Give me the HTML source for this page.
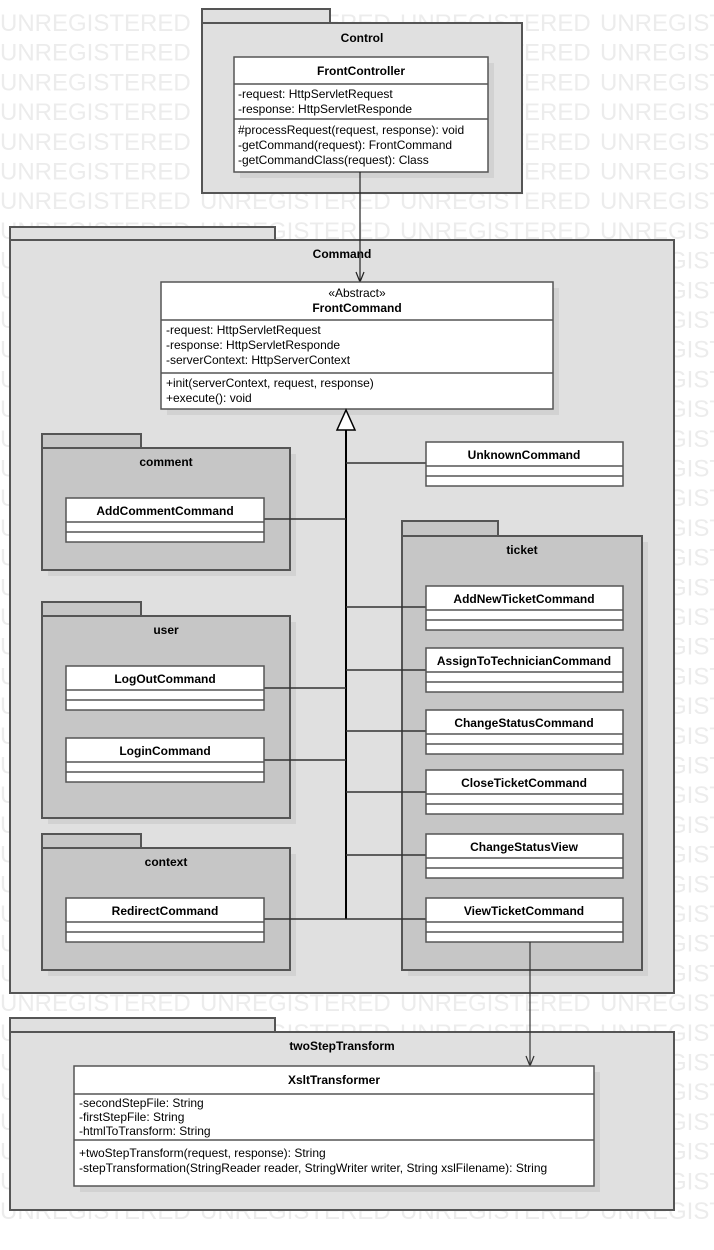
<!DOCTYPE html>
<html><head><meta charset="utf-8"><style>
html,body{margin:0;padding:0;background:#fff;}
svg{display:block;}
text{font-family:"Liberation Sans",sans-serif;font-size:12px;fill:#000;}
.wm{font-size:24px;fill:#ececec;}
.b{font-weight:bold;}
.pk{stroke:#555;stroke-width:2;}
.cl{fill:#fff;stroke:#555;stroke-width:1.5;}
.ln{stroke:#555;stroke-width:1.5;}
.sh{fill:#000;opacity:0.06;}
</style></head><body>
<svg width="714" height="1250" viewBox="0 0 714 1250" xmlns="http://www.w3.org/2000/svg">
<g class="wmg">
<text class="wm" y="31"><tspan x="0">UNREGISTERED</tspan><tspan x="200">UNREGISTERED</tspan><tspan x="400">UNREGISTERED</tspan><tspan x="600">UNREGISTERED</tspan></text>
<text class="wm" y="60.7"><tspan x="0">UNREGISTERED</tspan><tspan x="200">UNREGISTERED</tspan><tspan x="400">UNREGISTERED</tspan><tspan x="600">UNREGISTERED</tspan></text>
<text class="wm" y="90.4"><tspan x="0">UNREGISTERED</tspan><tspan x="200">UNREGISTERED</tspan><tspan x="400">UNREGISTERED</tspan><tspan x="600">UNREGISTERED</tspan></text>
<text class="wm" y="120.1"><tspan x="0">UNREGISTERED</tspan><tspan x="200">UNREGISTERED</tspan><tspan x="400">UNREGISTERED</tspan><tspan x="600">UNREGISTERED</tspan></text>
<text class="wm" y="149.8"><tspan x="0">UNREGISTERED</tspan><tspan x="200">UNREGISTERED</tspan><tspan x="400">UNREGISTERED</tspan><tspan x="600">UNREGISTERED</tspan></text>
<text class="wm" y="179.5"><tspan x="0">UNREGISTERED</tspan><tspan x="200">UNREGISTERED</tspan><tspan x="400">UNREGISTERED</tspan><tspan x="600">UNREGISTERED</tspan></text>
<text class="wm" y="209.2"><tspan x="0">UNREGISTERED</tspan><tspan x="200">UNREGISTERED</tspan><tspan x="400">UNREGISTERED</tspan><tspan x="600">UNREGISTERED</tspan></text>
<text class="wm" y="238.9"><tspan x="0">UNREGISTERED</tspan><tspan x="200">UNREGISTERED</tspan><tspan x="400">UNREGISTERED</tspan><tspan x="600">UNREGISTERED</tspan></text>
<text class="wm" y="268.6"><tspan x="0">UNREGISTERED</tspan><tspan x="200">UNREGISTERED</tspan><tspan x="400">UNREGISTERED</tspan><tspan x="600">UNREGISTERED</tspan></text>
<text class="wm" y="298.3"><tspan x="0">UNREGISTERED</tspan><tspan x="200">UNREGISTERED</tspan><tspan x="400">UNREGISTERED</tspan><tspan x="600">UNREGISTERED</tspan></text>
<text class="wm" y="328"><tspan x="0">UNREGISTERED</tspan><tspan x="200">UNREGISTERED</tspan><tspan x="400">UNREGISTERED</tspan><tspan x="600">UNREGISTERED</tspan></text>
<text class="wm" y="357.7"><tspan x="0">UNREGISTERED</tspan><tspan x="200">UNREGISTERED</tspan><tspan x="400">UNREGISTERED</tspan><tspan x="600">UNREGISTERED</tspan></text>
<text class="wm" y="387.4"><tspan x="0">UNREGISTERED</tspan><tspan x="200">UNREGISTERED</tspan><tspan x="400">UNREGISTERED</tspan><tspan x="600">UNREGISTERED</tspan></text>
<text class="wm" y="417.1"><tspan x="0">UNREGISTERED</tspan><tspan x="200">UNREGISTERED</tspan><tspan x="400">UNREGISTERED</tspan><tspan x="600">UNREGISTERED</tspan></text>
<text class="wm" y="446.8"><tspan x="0">UNREGISTERED</tspan><tspan x="200">UNREGISTERED</tspan><tspan x="400">UNREGISTERED</tspan><tspan x="600">UNREGISTERED</tspan></text>
<text class="wm" y="476.5"><tspan x="0">UNREGISTERED</tspan><tspan x="200">UNREGISTERED</tspan><tspan x="400">UNREGISTERED</tspan><tspan x="600">UNREGISTERED</tspan></text>
<text class="wm" y="506.2"><tspan x="0">UNREGISTERED</tspan><tspan x="200">UNREGISTERED</tspan><tspan x="400">UNREGISTERED</tspan><tspan x="600">UNREGISTERED</tspan></text>
<text class="wm" y="535.9"><tspan x="0">UNREGISTERED</tspan><tspan x="200">UNREGISTERED</tspan><tspan x="400">UNREGISTERED</tspan><tspan x="600">UNREGISTERED</tspan></text>
<text class="wm" y="565.6"><tspan x="0">UNREGISTERED</tspan><tspan x="200">UNREGISTERED</tspan><tspan x="400">UNREGISTERED</tspan><tspan x="600">UNREGISTERED</tspan></text>
<text class="wm" y="595.3"><tspan x="0">UNREGISTERED</tspan><tspan x="200">UNREGISTERED</tspan><tspan x="400">UNREGISTERED</tspan><tspan x="600">UNREGISTERED</tspan></text>
<text class="wm" y="625"><tspan x="0">UNREGISTERED</tspan><tspan x="200">UNREGISTERED</tspan><tspan x="400">UNREGISTERED</tspan><tspan x="600">UNREGISTERED</tspan></text>
<text class="wm" y="654.7"><tspan x="0">UNREGISTERED</tspan><tspan x="200">UNREGISTERED</tspan><tspan x="400">UNREGISTERED</tspan><tspan x="600">UNREGISTERED</tspan></text>
<text class="wm" y="684.4"><tspan x="0">UNREGISTERED</tspan><tspan x="200">UNREGISTERED</tspan><tspan x="400">UNREGISTERED</tspan><tspan x="600">UNREGISTERED</tspan></text>
<text class="wm" y="714.1"><tspan x="0">UNREGISTERED</tspan><tspan x="200">UNREGISTERED</tspan><tspan x="400">UNREGISTERED</tspan><tspan x="600">UNREGISTERED</tspan></text>
<text class="wm" y="743.8"><tspan x="0">UNREGISTERED</tspan><tspan x="200">UNREGISTERED</tspan><tspan x="400">UNREGISTERED</tspan><tspan x="600">UNREGISTERED</tspan></text>
<text class="wm" y="773.5"><tspan x="0">UNREGISTERED</tspan><tspan x="200">UNREGISTERED</tspan><tspan x="400">UNREGISTERED</tspan><tspan x="600">UNREGISTERED</tspan></text>
<text class="wm" y="803.2"><tspan x="0">UNREGISTERED</tspan><tspan x="200">UNREGISTERED</tspan><tspan x="400">UNREGISTERED</tspan><tspan x="600">UNREGISTERED</tspan></text>
<text class="wm" y="832.9"><tspan x="0">UNREGISTERED</tspan><tspan x="200">UNREGISTERED</tspan><tspan x="400">UNREGISTERED</tspan><tspan x="600">UNREGISTERED</tspan></text>
<text class="wm" y="862.6"><tspan x="0">UNREGISTERED</tspan><tspan x="200">UNREGISTERED</tspan><tspan x="400">UNREGISTERED</tspan><tspan x="600">UNREGISTERED</tspan></text>
<text class="wm" y="892.3"><tspan x="0">UNREGISTERED</tspan><tspan x="200">UNREGISTERED</tspan><tspan x="400">UNREGISTERED</tspan><tspan x="600">UNREGISTERED</tspan></text>
<text class="wm" y="922"><tspan x="0">UNREGISTERED</tspan><tspan x="200">UNREGISTERED</tspan><tspan x="400">UNREGISTERED</tspan><tspan x="600">UNREGISTERED</tspan></text>
<text class="wm" y="951.7"><tspan x="0">UNREGISTERED</tspan><tspan x="200">UNREGISTERED</tspan><tspan x="400">UNREGISTERED</tspan><tspan x="600">UNREGISTERED</tspan></text>
<text class="wm" y="981.4"><tspan x="0">UNREGISTERED</tspan><tspan x="200">UNREGISTERED</tspan><tspan x="400">UNREGISTERED</tspan><tspan x="600">UNREGISTERED</tspan></text>
<text class="wm" y="1011.1"><tspan x="0">UNREGISTERED</tspan><tspan x="200">UNREGISTERED</tspan><tspan x="400">UNREGISTERED</tspan><tspan x="600">UNREGISTERED</tspan></text>
<text class="wm" y="1040.8"><tspan x="0">UNREGISTERED</tspan><tspan x="200">UNREGISTERED</tspan><tspan x="400">UNREGISTERED</tspan><tspan x="600">UNREGISTERED</tspan></text>
<text class="wm" y="1070.5"><tspan x="0">UNREGISTERED</tspan><tspan x="200">UNREGISTERED</tspan><tspan x="400">UNREGISTERED</tspan><tspan x="600">UNREGISTERED</tspan></text>
<text class="wm" y="1100.2"><tspan x="0">UNREGISTERED</tspan><tspan x="200">UNREGISTERED</tspan><tspan x="400">UNREGISTERED</tspan><tspan x="600">UNREGISTERED</tspan></text>
<text class="wm" y="1129.9"><tspan x="0">UNREGISTERED</tspan><tspan x="200">UNREGISTERED</tspan><tspan x="400">UNREGISTERED</tspan><tspan x="600">UNREGISTERED</tspan></text>
<text class="wm" y="1159.6"><tspan x="0">UNREGISTERED</tspan><tspan x="200">UNREGISTERED</tspan><tspan x="400">UNREGISTERED</tspan><tspan x="600">UNREGISTERED</tspan></text>
<text class="wm" y="1189.3"><tspan x="0">UNREGISTERED</tspan><tspan x="200">UNREGISTERED</tspan><tspan x="400">UNREGISTERED</tspan><tspan x="600">UNREGISTERED</tspan></text>
<text class="wm" y="1219"><tspan x="0">UNREGISTERED</tspan><tspan x="200">UNREGISTERED</tspan><tspan x="400">UNREGISTERED</tspan><tspan x="600">UNREGISTERED</tspan></text>
</g>

<!-- Control -->
<rect x="202" y="9" width="128" height="14" fill="#e0e0e0" class="pk"/>
<rect x="202" y="23" width="320" height="170" fill="#e0e0e0" class="pk"/>
<text x="362" y="42" text-anchor="middle" class="b">Control</text>
<rect x="240" y="63" width="254" height="115" class="sh"/>
<rect x="234" y="57" width="254" height="115" class="cl"/>
<line x1="234" y1="84" x2="488" y2="84" class="ln"/>
<line x1="234" y1="119" x2="488" y2="119" class="ln"/>
<text x="361" y="75" text-anchor="middle" class="b">FrontController</text>
<text x="238" y="98">-request: HttpServletRequest</text>
<text x="238" y="113">-response: HttpServletResponde</text>
<text x="238" y="134">#processRequest(request, response): void</text>
<text x="238" y="149">-getCommand(request): FrontCommand</text>
<text x="238" y="164">-getCommandClass(request): Class</text>

<!-- Command -->
<rect x="10" y="227" width="265" height="13" fill="#e0e0e0" class="pk"/>
<rect x="10" y="240" width="664" height="753" fill="#e0e0e0" class="pk"/>
<text x="342" y="258" text-anchor="middle" class="b">Command</text>

<line x1="360" y1="172" x2="360" y2="282" stroke="#222" stroke-width="1.2"/>
<polyline points="356,272 360,282 364,272" fill="none" stroke="#222" stroke-width="1.2"/>

<rect x="167" y="288" width="392" height="127" class="sh"/>
<rect x="161" y="282" width="392" height="127" class="cl"/>
<line x1="161" y1="320" x2="553" y2="320" class="ln"/>
<line x1="161" y1="373" x2="553" y2="373" class="ln"/>
<text x="357" y="297" text-anchor="middle">«Abstract»</text>
<text x="357" y="312" text-anchor="middle" class="b">FrontCommand</text>
<text x="166" y="334">-request: HttpServletRequest</text>
<text x="166" y="349">-response: HttpServletResponde</text>
<text x="166" y="364">-serverContext: HttpServerContext</text>
<text x="166" y="387">+init(serverContext, request, response)</text>
<text x="166" y="402">+execute(): void</text>

<!-- comment pkg -->
<rect x="48" y="454" width="248" height="122" class="sh"/>
<rect x="42" y="434" width="99" height="14" fill="#c6c6c6" class="pk"/>
<rect x="42" y="448" width="248" height="122" fill="#c6c6c6" class="pk"/>
<text x="166" y="466" text-anchor="middle" class="b">comment</text>
<!-- user pkg -->
<rect x="48" y="622" width="248" height="202" class="sh"/>
<rect x="42" y="602" width="99" height="14" fill="#c6c6c6" class="pk"/>
<rect x="42" y="616" width="248" height="202" fill="#c6c6c6" class="pk"/>
<text x="166" y="634" text-anchor="middle" class="b">user</text>
<!-- context pkg -->
<rect x="48" y="854" width="248" height="122" class="sh"/>
<rect x="42" y="834" width="99" height="14" fill="#c6c6c6" class="pk"/>
<rect x="42" y="848" width="248" height="122" fill="#c6c6c6" class="pk"/>
<text x="166" y="866" text-anchor="middle" class="b">context</text>
<!-- ticket pkg -->
<rect x="408" y="542" width="240" height="434" class="sh"/>
<rect x="402" y="521" width="96" height="15" fill="#c6c6c6" class="pk"/>
<rect x="402" y="536" width="240" height="434" fill="#c6c6c6" class="pk"/>
<text x="522" y="554" text-anchor="middle" class="b">ticket</text>

<!-- connectors -->
<g stroke="#333" stroke-width="1.5">
<line x1="346" y1="430" x2="346" y2="919" stroke="#000" stroke-width="2"/>
<line x1="264" y1="519" x2="346" y2="519"/>
<line x1="264" y1="688" x2="346" y2="688"/>
<line x1="264" y1="760" x2="346" y2="760"/>
<line x1="264" y1="919" x2="346" y2="919"/>
<line x1="346" y1="463" x2="426" y2="463"/>
<line x1="346" y1="607" x2="426" y2="607"/>
<line x1="346" y1="670" x2="426" y2="670"/>
<line x1="346" y1="731" x2="426" y2="731"/>
<line x1="346" y1="792" x2="426" y2="792"/>
<line x1="346" y1="855" x2="426" y2="855"/>
<line x1="346" y1="919" x2="426" y2="919"/>
</g>
<polygon points="346,410 337,430 355,430" fill="#fff" stroke="#000" stroke-width="1.5"/>

<!-- small classes -->
<g>
<rect x="66" y="498" width="198" height="44" class="cl"/><line x1="66" y1="522" x2="264" y2="522" class="ln"/><line x1="66" y1="532" x2="264" y2="532" class="ln"/><text x="165" y="515" text-anchor="middle" class="b">AddCommentCommand</text>
<rect x="66" y="666" width="198" height="44" class="cl"/><line x1="66" y1="690" x2="264" y2="690" class="ln"/><line x1="66" y1="700" x2="264" y2="700" class="ln"/><text x="165" y="683" text-anchor="middle" class="b">LogOutCommand</text>
<rect x="66" y="738" width="198" height="44" class="cl"/><line x1="66" y1="762" x2="264" y2="762" class="ln"/><line x1="66" y1="772" x2="264" y2="772" class="ln"/><text x="165" y="755" text-anchor="middle" class="b">LoginCommand</text>
<rect x="66" y="898" width="198" height="44" class="cl"/><line x1="66" y1="922" x2="264" y2="922" class="ln"/><line x1="66" y1="932" x2="264" y2="932" class="ln"/><text x="165" y="915" text-anchor="middle" class="b">RedirectCommand</text>

<rect x="426" y="442" width="197" height="44" class="cl"/><line x1="426" y1="466" x2="623" y2="466" class="ln"/><line x1="426" y1="476" x2="623" y2="476" class="ln"/><text x="524" y="459" text-anchor="middle" class="b">UnknownCommand</text>
<rect x="426" y="586" width="197" height="44" class="cl"/><line x1="426" y1="610" x2="623" y2="610" class="ln"/><line x1="426" y1="620" x2="623" y2="620" class="ln"/><text x="524" y="603" text-anchor="middle" class="b">AddNewTicketCommand</text>
<rect x="426" y="648" width="197" height="44" class="cl"/><line x1="426" y1="672" x2="623" y2="672" class="ln"/><line x1="426" y1="682" x2="623" y2="682" class="ln"/><text x="524" y="665" text-anchor="middle" class="b">AssignToTechnicianCommand</text>
<rect x="426" y="710" width="197" height="44" class="cl"/><line x1="426" y1="734" x2="623" y2="734" class="ln"/><line x1="426" y1="744" x2="623" y2="744" class="ln"/><text x="524" y="727" text-anchor="middle" class="b">ChangeStatusCommand</text>
<rect x="426" y="770" width="197" height="44" class="cl"/><line x1="426" y1="794" x2="623" y2="794" class="ln"/><line x1="426" y1="804" x2="623" y2="804" class="ln"/><text x="524" y="787" text-anchor="middle" class="b">CloseTicketCommand</text>
<rect x="426" y="834" width="197" height="44" class="cl"/><line x1="426" y1="858" x2="623" y2="858" class="ln"/><line x1="426" y1="868" x2="623" y2="868" class="ln"/><text x="524" y="851" text-anchor="middle" class="b">ChangeStatusView</text>
<rect x="426" y="898" width="197" height="44" class="cl"/><line x1="426" y1="922" x2="623" y2="922" class="ln"/><line x1="426" y1="932" x2="623" y2="932" class="ln"/><text x="524" y="915" text-anchor="middle" class="b">ViewTicketCommand</text>
</g>

<!-- twoStepTransform -->
<rect x="10" y="1018" width="265" height="14" fill="#e0e0e0" class="pk"/>
<rect x="10" y="1032" width="664" height="178" fill="#e0e0e0" class="pk"/>
<text x="342" y="1050" text-anchor="middle" class="b">twoStepTransform</text>

<line x1="530" y1="942" x2="530" y2="1066" stroke="#333" stroke-width="1.2"/>
<polyline points="526,1056 530,1066 534,1056" fill="none" stroke="#333" stroke-width="1.2"/>

<rect x="80" y="1072" width="520" height="120" class="sh"/>
<rect x="74" y="1066" width="520" height="120" class="cl"/>
<line x1="74" y1="1094" x2="594" y2="1094" class="ln"/>
<line x1="74" y1="1140" x2="594" y2="1140" class="ln"/>
<text x="334" y="1084" text-anchor="middle" class="b">XsltTransformer</text>
<text x="79" y="1107">-secondStepFile: String</text>
<text x="79" y="1121">-firstStepFile: String</text>
<text x="79" y="1135">-htmlToTransform: String</text>
<text x="79" y="1157">+twoStepTransform(request, response): String</text>
<text x="79" y="1172">-stepTransformation(StringReader reader, StringWriter writer, String xslFilename): String</text>
</svg>
</body></html>
